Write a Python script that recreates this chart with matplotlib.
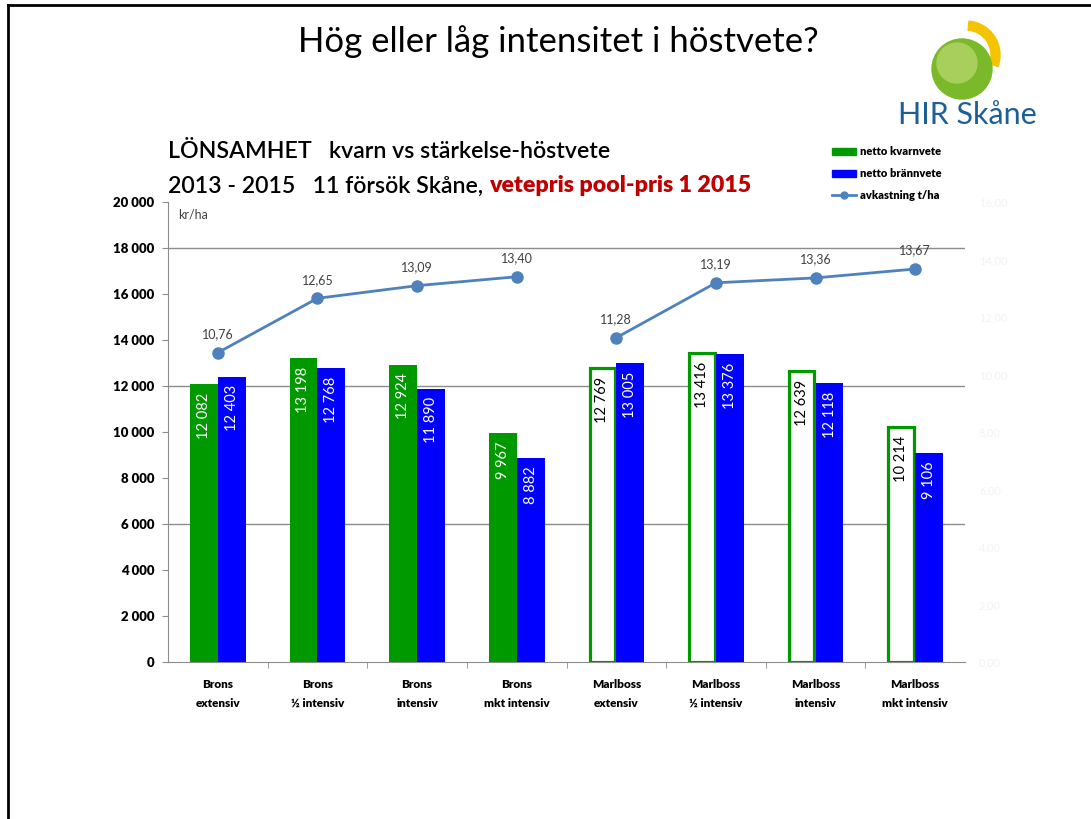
import numpy as np
import matplotlib.pyplot as plt
from matplotlib.patches import Patch, Circle, Wedge
from matplotlib.lines import Line2D

plt.rcParams['font.family'] = ['Lato', 'DejaVu Sans']

kategorier = ["Brons\nextensiv", "Brons\n½ intensiv", "Brons\nintensiv", "Brons\nmkt intensiv",
              "Marlboss\nextensiv", "Marlboss\n½ intensiv", "Marlboss\nintensiv", "Marlboss\nmkt intensiv"]
netto_kvarn = [12082, 13198, 12924, 9967, 12769, 13416, 12639, 10214]
netto_bränn = [12403, 12768, 11890, 8882, 13005, 13376, 12118, 9106]
avkastning = [10.76, 12.65, 13.09, 13.40, 11.28, 13.19, 13.36, 13.67]
ihalig = [False, False, False, False, True, True, True, True]
gridlinjer = [6000, 12000, 18000]

GRON = "#009a00"
BLA = "#0000ff"
LINJE = "#4f81bd"

def tal(v):
    return f"{v:,}".replace(",", " ")

fig = plt.figure(figsize=(10.91, 8.19), dpi=100)

# ram runt bilden
fig.add_artist(Line2D([8 / 1091, 8 / 1091], [0, 1 - 5 / 819], color="black", lw=2))
fig.add_artist(Line2D([8 / 1091, 1], [1 - 5 / 819, 1 - 5 / 819], color="black", lw=2))

fig.text(558 / 1091, 1 - 42 / 819, "Hög eller låg intensitet i höstvete?", ha="center", va="center",
         fontsize=25)

# logga (axes i pixelmått: 130 x 100 px)
logo_ax = fig.add_axes([900 / 1091, 1 - 105 / 819, 130 / 1091, 100 / 819])
logo_ax.set_xlim(0, 130)
logo_ax.set_ylim(0, 100)
logo_ax.axis("off")
logo_ax.add_patch(Wedge((66, 50), 34, -20, 85, width=9, color="#f5c400"))
logo_ax.add_patch(Circle((62, 36), 30, color="#7ab929"))
logo_ax.add_patch(Circle((57, 42), 20, color="#a8cf5c"))
fig.text(967 / 1091, 1 - 115 / 819, "HIR Skåne", ha="center", va="center", fontsize=22,
         color="#1e5f96")

ax = fig.add_axes([168 / 1091, 1 - 662 / 819, (965 - 168) / 1091, 460 / 819])
x = np.arange(len(kategorier))
w = 0.28

for i in x:
    if ihalig[i]:
        ax.bar(i - w / 2, netto_kvarn[i], w * 0.92, color="white", edgecolor=GRON, linewidth=2.3, zorder=3)
    else:
        ax.bar(i - w / 2, netto_kvarn[i], w, color=GRON, zorder=3)
    ax.annotate(tal(netto_kvarn[i]), (i - w / 2, netto_kvarn[i]), xytext=(0, -6), textcoords="offset points",
                rotation=90, ha="center", va="top", fontsize=10.5,
                color="black" if ihalig[i] else "white", zorder=5)
ax.bar(x + w / 2, netto_bränn, w, color=BLA, zorder=3)
for i in x:
    ax.annotate(tal(netto_bränn[i]), (i + w / 2, netto_bränn[i]), xytext=(0, -6), textcoords="offset points",
                rotation=90, ha="center", va="top", fontsize=10.5, color="white", zorder=5)

for g in gridlinjer:
    ax.axhline(g, color="#8c8c8c", lw=1, zorder=1)

ax.set_xlim(-0.5, len(kategorier) - 0.5)
ax.set_ylim(0, 20000)
ax.set_yticks(np.arange(0, 20001, 2000))
ax.set_yticklabels([tal(v) for v in range(0, 20001, 2000)], fontsize=9.5, fontweight="heavy")
ax.set_xticks(x)
ax.set_xticklabels(kategorier, fontsize=8.5, fontweight="heavy", linespacing=1.9)
ax.set_xticks(np.arange(0.5, len(kategorier) - 0.5, 1), minor=True)
ax.tick_params(axis="x", which="major", length=0, pad=12)
ax.tick_params(axis="x", which="minor", length=4, color="#8c8c8c")
ax.tick_params(axis="y", length=4, color="#8c8c8c", pad=6)
for s in ["top", "right"]:
    ax.spines[s].set_visible(False)
ax.spines["left"].set_color("#8c8c8c")
ax.spines["bottom"].set_color("#8c8c8c")
ax.text(0.013, 0.985, "kr/ha", transform=ax.transAxes, fontsize=9, va="top", color="#404040")

ax2 = ax.twinx()
ax2.set_ylim(0, 16)
ax2.set_yticks(np.arange(0, 17, 2))
ax2.set_yticklabels([f"{v},00" for v in range(0, 17, 2)], fontsize=8, color="#f3f3f3")
ax2.tick_params(axis="y", length=0, pad=10)
for s in ax2.spines.values():
    s.set_visible(False)
for grupp in (slice(0, 4), slice(4, 8)):
    ax2.plot(x[grupp], avkastning[grupp], color=LINJE, lw=2, marker="o", markersize=8, zorder=4)
for i, v in enumerate(avkastning):
    ax2.annotate(f"{v:.2f}".replace(".", ","), (i, v), xytext=(0, 9), textcoords="offset points",
                 ha="center", va="bottom", fontsize=9, color="#404040")

# rubriker
fig.text(168 / 1091, 1 - 152 / 819, "LÖNSAMHET   kvarn vs stärkelse-höstvete", fontsize=16.7,
         va="center", fontweight="semibold")
t = fig.text(168 / 1091, 1 - 186 / 819, "2013 - 2015   11 försök Skåne, ", fontsize=16.7,
             va="center", fontweight="semibold")
fig.canvas.draw()
ax.annotate("vetepris pool-pris 1 2015", xy=(1, 0.5), xycoords=t, va="center", fontsize=16.7,
            fontweight="heavy", color="#c00000", annotation_clip=False)

handles = [Patch(color=GRON), Patch(color=BLA),
           Line2D([], [], color=LINJE, marker="o", lw=2, markersize=5)]
fig.legend(handles, ["netto kvarnvete", "netto brännvete", "avkastning t/ha"],
           loc="upper left", bbox_to_anchor=(822 / 1091, 1 - 136 / 819), frameon=False,
           prop={"weight": "heavy", "size": 8}, handlelength=2.2, handleheight=0.6,
           labelspacing=1.0, handletextpad=0.3)

fig.savefig("out.png", dpi=100)
